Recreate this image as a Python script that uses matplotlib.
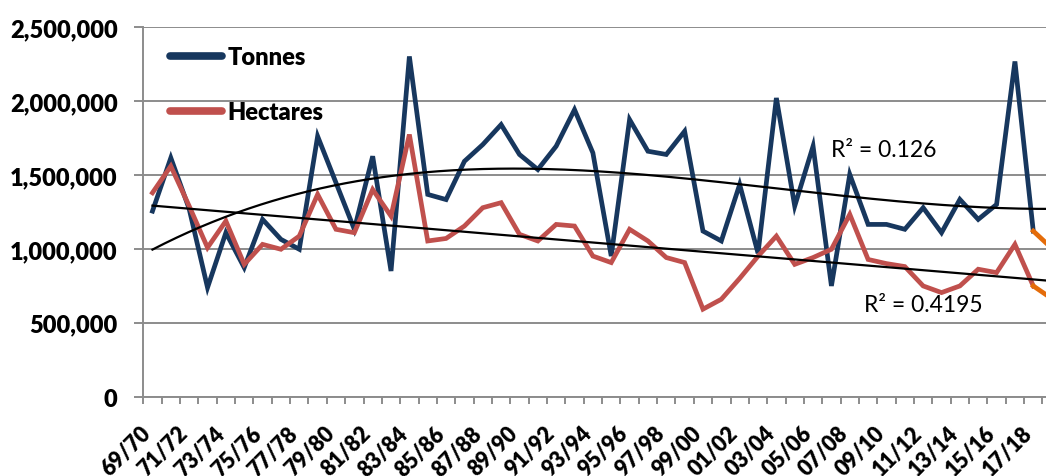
import numpy as np
import matplotlib
matplotlib.use("Agg")
import matplotlib.pyplot as plt
from matplotlib.transforms import ScaledTranslation

# seasons 69/70 .. 18/19
seasons = [f"{(69 + i) % 100:02d}/{(70 + i) % 100:02d}" for i in range(50)]

# values (last season is the orange estimate)
tonnes = [1255000, 1615000, 1270000, 738000, 1109000, 873000, 1199000, 1064000, 997000, 1761000,
          1447000, 1132000, 1626000, 850000, 2301000, 1368000, 1333000, 1592000, 1705000, 1840000,
          1638000, 1536000, 1694000, 1941000, 1649000, 951000, 1874000, 1660000, 1638000, 1795000,
          1120000, 1053000, 1435000, 970000, 2020000, 1289000, 1694000, 749000, 1503000, 1165000,
          1165000, 1132000, 1278000, 1109000, 1334000, 1199000, 1300000, 2267000, 1120000, 1005000]
hectares = [1379000, 1559000, 1289000, 1008000, 1188000, 895000, 1030000, 997000, 1086000, 1368000,
            1132000, 1109000, 1401000, 1221000, 1773000, 1053000, 1070000, 1154000, 1278000, 1312000,
            1098000, 1053000, 1165000, 1154000, 951000, 907000, 1132000, 1053000, 941000, 907000,
            592000, 659000, 800000, 950000, 1086000, 895000, 941000, 997000, 1233000, 928000,
            900000, 880000, 749000, 704000, 749000, 862000, 839000, 1030000, 749000, 664000]
r2Tonnes = "R² = 0.126"
r2Hectares = "R² = 0.4195"

blue = "#17375E"
red = "#C0504D"
orange = "#E46C0A"
grey = "#8C8C8C"

plt.rcParams['font.family'] = ['Lato', 'DejaVu Sans']

fig = plt.figure(figsize=(10.46, 4.77), dpi=100)
W, H = 1046, 477
ax = fig.add_axes([143.3 / W, (H - 397.7) / H, 917.5 / W, 369.7 / H])

x = np.arange(len(seasons))
ax.plot(x[:-1], tonnes[:-1], color=blue, lw=3.4, solid_joinstyle='miter', label="Tonnes", zorder=3)
ax.plot(x[:-1], hectares[:-1], color=red, lw=3.4, solid_joinstyle='miter', label="Hectares", zorder=3)
ax.plot(x[-2:], tonnes[-2:], color=orange, lw=3.4, zorder=3)
ax.plot(x[-2:], hectares[-2:], color=orange, lw=3.4, zorder=3)

# trend lines like excel: poly order 3 for tonnes, linear for hectares
xs = np.linspace(0, len(x) - 1, 300)
pT = np.polyfit(x + 1, tonnes, 3)
pH = np.polyfit(x + 1, hectares, 1)
ax.plot(xs, np.polyval(pT, xs + 1), color="black", lw=1.6, zorder=4)
ax.plot(xs, np.polyval(pH, xs + 1), color="black", lw=1.6, zorder=4)

ax.text(37.0, 1671000, r2Tonnes, fontsize=16.5, va="center", ha="left")
ax.text(38.8, 625000, r2Hectares, fontsize=16.5, va="center", ha="left")

ax.set_xlim(-0.5, len(x) - 0.5)
ax.set_ylim(0, 2500000)
ax.set_yticks(np.arange(0, 2500001, 500000))
ax.set_yticklabels([f"{v:,}" for v in range(0, 2500001, 500000)], fontsize=17, fontweight="heavy")
ax.yaxis.grid(True, color=grey, lw=1.4)
ax.set_axisbelow(True)

ax.set_xticks(x[::2])
ax.set_xticklabels(seasons[::2], rotation=45, ha="right", va="baseline", rotation_mode="anchor",
                   fontsize=15.5, fontweight="heavy")
shift = ScaledTranslation(5 / 100, 0, fig.dpi_scale_trans)
for lbl in ax.get_xticklabels():
    lbl.set_transform(lbl.get_transform() + shift)
ax.set_xticks(np.arange(-0.5, len(x)), minor=True)
ax.tick_params(axis="x", which="major", length=0, pad=27)
ax.tick_params(axis="x", which="minor", length=5, color=grey, width=1.4)
ax.tick_params(axis="y", length=6.5, color=grey, width=1.4, pad=12)

for s in ["top", "right"]:
    ax.spines[s].set_visible(False)
for s in ["left", "bottom"]:
    ax.spines[s].set_color(grey)
    ax.spines[s].set_linewidth(1.4)

leg = fig.legend(handles=ax.get_lines()[:2], loc="upper left", bbox_to_anchor=(170 / W, 1 - 47 / H),
                 frameon=False, borderpad=0, borderaxespad=0, handlelength=2.2, handletextpad=0.25,
                 labelspacing=1.4, prop={"family": "Lato", "weight": "heavy", "size": 17})
for line in leg.get_lines():
    line.set_linewidth(5.5)
    line.set_solid_capstyle("round")

fig.savefig("out.png", dpi=100)
